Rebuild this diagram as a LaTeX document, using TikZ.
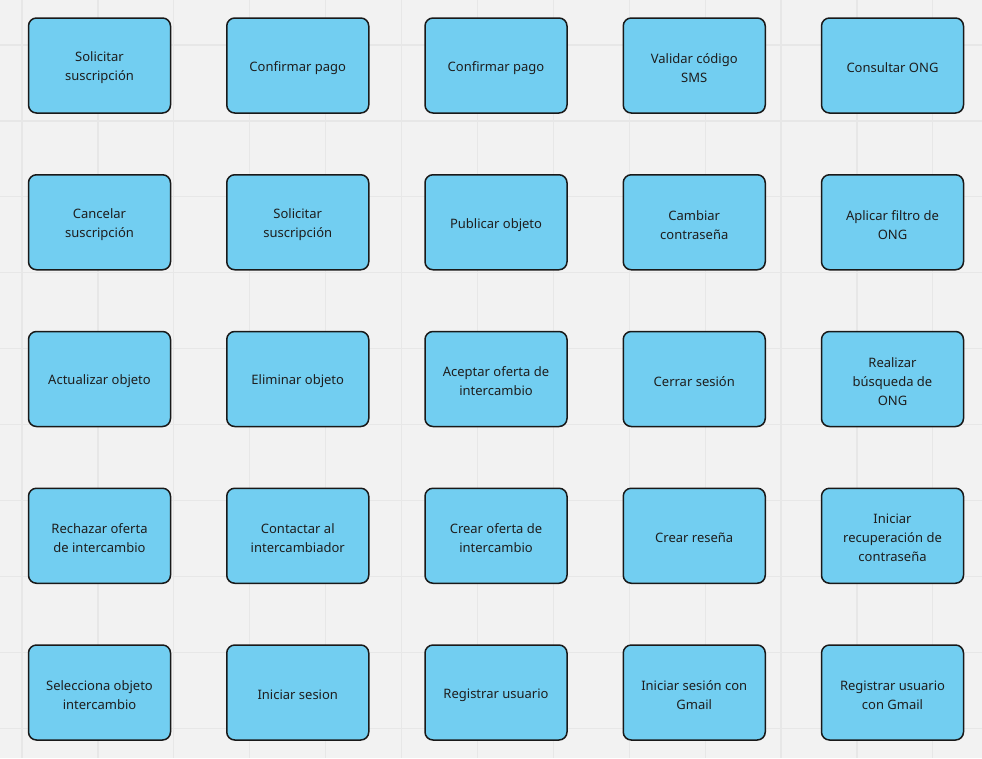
\documentclass[tikz,border=0pt]{standalone}
\usepackage{fontspec}
\setmainfont{Noto Sans}
\definecolor{bg}{RGB}{242,242,242}
\definecolor{gridc}{RGB}{231,231,231}
\definecolor{boxfill}{RGB}{114,206,241}
\definecolor{txt}{RGB}{30,30,30}
\newcommand\cardtext[1]{\raisebox{-2.5pt}[\height][\depth]{\parbox{130pt}{\centering #1}}}
\begin{document}
\begin{tikzpicture}[x=1pt,y=-1pt,
  card/.style={draw=black!90,line width=1.5pt,fill=boxfill,rounded corners=8pt,
    minimum width=142pt,minimum height=95pt,inner sep=0pt,
    text=txt,font=\fontsize{13pt}{19pt}\selectfont}]
\fill[bg] (0,0) rectangle (982,758);
\useasboundingbox (0,0) rectangle (982,758);
\foreach \i in {0,...,12} \draw[gridc,line width=1.2pt] ({22+75.9*\i},0) -- ({22+75.9*\i},758);
\foreach \j in {-1,...,9} \draw[gridc,line width=1.2pt] (0,{45+75.9*\j}) -- (982,{45+75.9*\j});
% row 1
\node[card] (a1) at (99.5,65.5) {\cardtext{Solicitar\\suscripción}};
\node[card] (a2) at (297.75,65.5) {\cardtext{Confirmar pago}};
\node[card] (a3) at (496,65.5) {\cardtext{Confirmar pago}};
\node[card] (a4) at (694.25,65.5) {\cardtext{Validar código\\SMS}};
\node[card] (a5) at (892.5,65.5) {\cardtext{Consultar ONG}};
% row 2
\node[card] (b1) at (99.5,222.25) {\cardtext{Cancelar\\suscripción}};
\node[card] (b2) at (297.75,222.25) {\cardtext{Solicitar\\suscripción}};
\node[card] (b3) at (496,222.25) {\cardtext{Publicar objeto}};
\node[card] (b4) at (694.25,222.25) {\cardtext{Cambiar\\contraseña}};
\node[card] (b5) at (892.5,222.25) {\cardtext{Aplicar filtro de\\ONG}};
% row 3
\node[card] (c1) at (99.5,379) {\cardtext{Actualizar objeto}};
\node[card] (c2) at (297.75,379) {\cardtext{Eliminar objeto}};
\node[card] (c3) at (496,379) {\cardtext{Aceptar oferta de\\intercambio}};
\node[card] (c4) at (694.25,379) {\cardtext{Cerrar sesión}};
\node[card] (c5) at (892.5,379) {\cardtext{Realizar\\búsqueda de\\ONG}};
% row 4
\node[card] (d1) at (99.5,535.75) {\cardtext{Rechazar oferta\\de intercambio}};
\node[card] (d2) at (297.75,535.75) {\cardtext{Contactar al\\intercambiador}};
\node[card] (d3) at (496,535.75) {\cardtext{Crear oferta de\\intercambio}};
\node[card] (d4) at (694.25,535.75) {\cardtext{Crear reseña}};
\node[card] (d5) at (892.5,535.75) {\cardtext{Iniciar\\recuperación de\\contraseña}};
% row 5
\node[card] (e1) at (99.5,692.5) {\cardtext{Selecciona objeto\\intercambio}};
\node[card] (e2) at (297.75,692.5) {\cardtext{Iniciar sesion}};
\node[card] (e3) at (496,692.5) {\cardtext{Registrar usuario}};
\node[card] (e4) at (694.25,692.5) {\cardtext{Iniciar sesión con\\Gmail}};
\node[card] (e5) at (892.5,692.5) {\cardtext{Registrar usuario\\con Gmail}};
\end{tikzpicture}
\end{document}
